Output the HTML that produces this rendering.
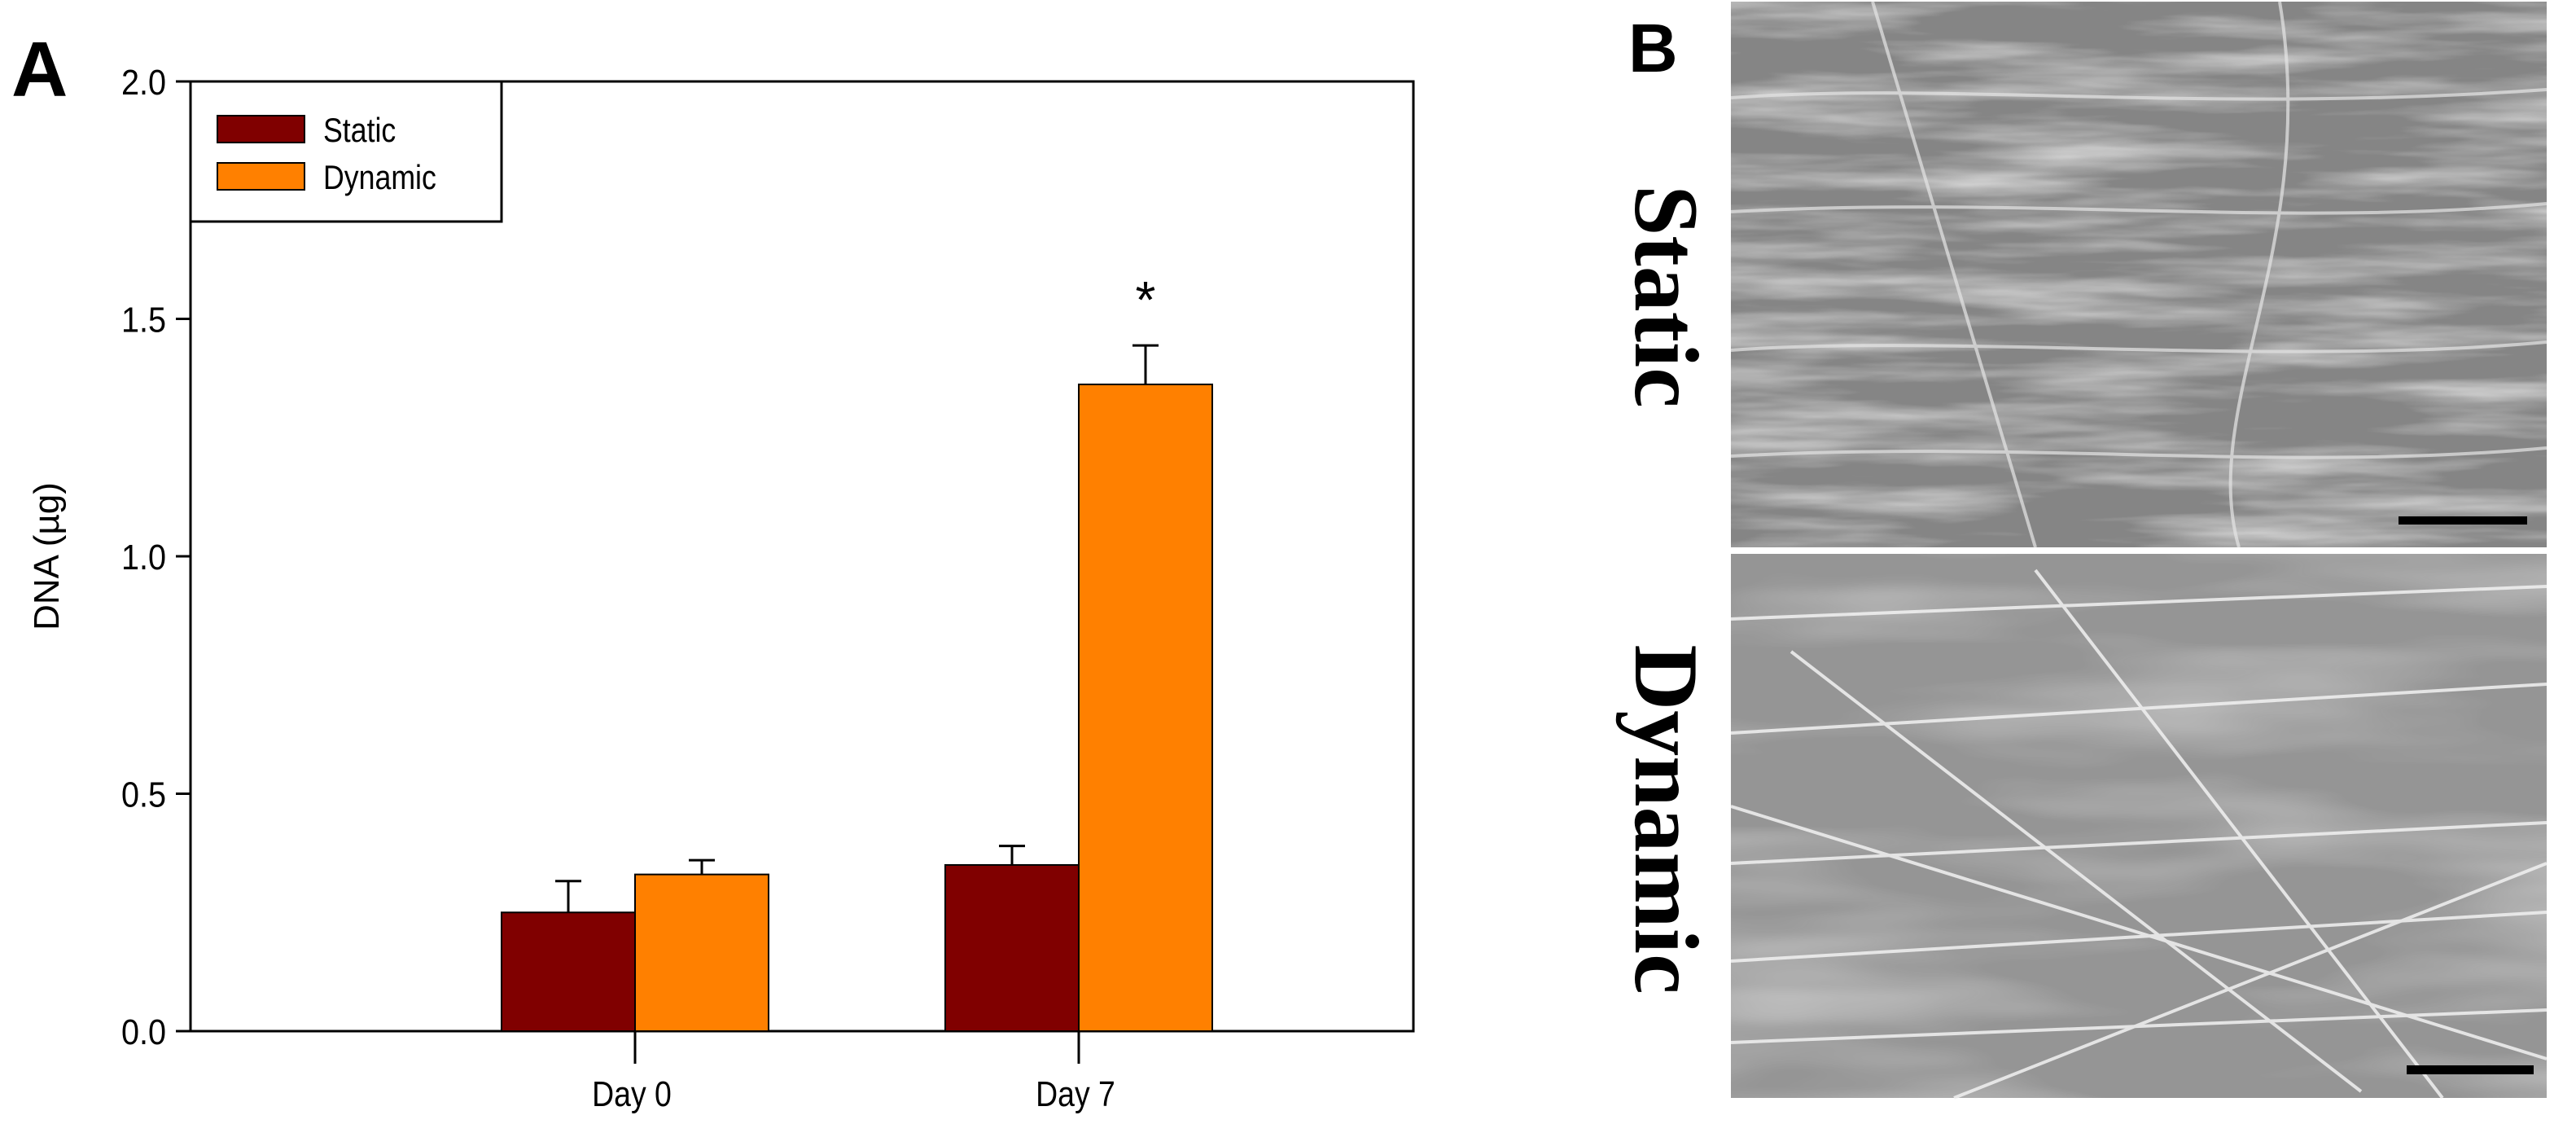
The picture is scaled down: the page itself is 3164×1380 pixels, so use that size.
<!DOCTYPE html>
<html><head><meta charset="utf-8"><style>
html,body{margin:0;padding:0;background:#fff;}
svg{display:block;}
</style></head><body>
<svg id="fig" width="3164" height="1380" viewBox="0 0 3164 1380" xmlns="http://www.w3.org/2000/svg">
<defs>
  <filter id="semA" x="0" y="0" width="100%" height="100%">
    <feTurbulence type="fractalNoise" baseFrequency="0.003 0.03" numOctaves="4" seed="3" result="n"/>
    <feColorMatrix type="matrix" values="0 0 0 0 0  0 0 0 0 0  0 0 0 0 0  0 0 0 -2.2 1.3" in="n" result="a"/>
    <feFlood flood-color="#ffffff" result="w"/>
    <feComposite in="w" in2="a" operator="in"/>
  </filter>
  <filter id="semB" x="0" y="0" width="100%" height="100%">
    <feTurbulence type="fractalNoise" baseFrequency="0.002 0.012" numOctaves="3" seed="8" result="n"/>
    <feColorMatrix type="matrix" values="0 0 0 0 0  0 0 0 0 0  0 0 0 0 0  0 0 0 -1.6 0.9" in="n" result="a"/>
    <feFlood flood-color="#ffffff" result="w"/>
    <feComposite in="w" in2="a" operator="in"/>
  </filter>
</defs>

<text x="14" y="118" font-family="Liberation Sans, sans-serif" font-weight="bold" font-size="96">A</text>

<g id="chart"></g>

<g>
  <rect x="2126" y="2" width="1002" height="670" fill="#858585"/>
  <rect x="2126" y="2" width="1002" height="670" filter="url(#semA)" opacity="0.6"/>
  <g stroke="#e6e6e6" stroke-width="4" fill="none" opacity="0.7">
    <path d="M2126 120 C2400 100 2700 140 3128 110"/><path d="M2126 260 C2500 240 2800 280 3128 250"/>
    <path d="M2126 430 C2400 410 2800 450 3128 420"/><path d="M2126 560 C2500 540 2800 580 3128 550"/>
    <path d="M2300 2 L2500 672"/><path d="M2800 2 C2850 300 2700 500 2750 672"/>
  </g>
  <rect x="2946" y="634" width="158" height="10" fill="#000"/>
</g>
<g>
  <rect x="2126" y="680" width="1002" height="668" fill="#959595"/>
  <rect x="2126" y="680" width="1002" height="668" filter="url(#semB)" opacity="0.5"/>
  <g stroke="#f2f2f2" stroke-width="4" fill="none" opacity="0.85">
    <path d="M2126 760 L3128 720"/><path d="M2126 900 L3128 840"/><path d="M2200 800 L2900 1340"/>
    <path d="M2126 1060 L3128 1010"/><path d="M2126 1180 L3128 1120"/><path d="M2400 1348 L3128 1060"/>
    <path d="M2126 1280 L3128 1240"/><path d="M2500 700 L3000 1348"/><path d="M2126 990 L3128 1300"/>
  </g>
  <rect x="2956" y="1308" width="156" height="11" fill="#000"/>
</g>
<text x="2000" y="88" font-family="Liberation Sans, sans-serif" font-weight="bold" font-size="84">B</text>
<text transform="translate(2046,364) rotate(90)" text-anchor="middle" dominant-baseline="central" font-family="Liberation Serif, serif" font-weight="bold" font-size="112">Static</text>
<text transform="translate(2046,1006) rotate(90)" text-anchor="middle" dominant-baseline="central" font-family="Liberation Serif, serif" font-weight="bold" font-size="112">Dynamic</text>
</svg>
<script>
const categories = ["Day 0", "Day 7"];
const staticValues = [0.25, 0.35];
const staticErrors = [0.066, 0.04];
const dynamicValues = [0.33, 1.362];
const dynamicErrors = [0.03, 0.082];
const yTicks = [0.0, 0.5, 1.0, 1.5, 2.0];
const yTickLabels = ["0.0", "0.5", "1.0", "1.5", "2.0"];

const NS = "http://www.w3.org/2000/svg";
const g = document.getElementById('chart');
const L = 234, R = 1736, T = 100, B = 1266;
const yMin = 0, yMax = 2;
const y = v => B - (v - yMin) / (yMax - yMin) * (B - T);
const catCenters = [780, 1325];
const x = i => catCenters[i];
const barW = 164;
const FONT = 'Liberation Sans, sans-serif';
function mk(tag, attrs) { const e = document.createElementNS(NS, tag); for (const k in attrs) e.setAttribute(k, attrs[k]); g.appendChild(e); return e; }

let e = mk('rect', {x: L, y: T, width: R - L, height: B - T, fill: 'none', stroke: '#000', 'stroke-width': 3});



yTicks.forEach((v, i) => {
  let t = mk('line', {x1: L - 18, x2: L, y1: y(v), y2: y(v), stroke: '#000', 'stroke-width': 3});
  
  
  let lb = mk('text', {x: L - 30, y: y(v) + 16, 'text-anchor': 'end', 'font-family': FONT, 'font-size': 44, transform: `translate(${(L-30)*0.1},0) scale(0.9,1)`});
  lb.textContent = yTickLabels[i];
  
  
});

let yl = mk('text', {transform: 'translate(72,683) rotate(-90)', 'text-anchor': 'middle', 'font-family': FONT, 'font-size': 44});
yl.textContent = 'DNA (µg)';



function bar(i, v, err, color, side, name) {
  const x0 = side === 0 ? x(i) - barW : x(i);
  let ev = mk('line', {x1: x0 + barW / 2, x2: x0 + barW / 2, y1: y(v), y2: y(v + err), stroke: '#000', 'stroke-width': 3});
  
  
  let ec = mk('line', {x1: x0 + barW / 2 - 16, x2: x0 + barW / 2 + 16, y1: y(v + err), y2: y(v + err), stroke: '#000', 'stroke-width': 3});
  
  
  let r = mk('rect', {x: x0, y: y(v), width: barW, height: B - y(v), fill: color, stroke: '#000', 'stroke-width': 2});
  
  
}
categories.forEach((c, i) => {
  bar(i, staticValues[i], staticErrors[i], '#800000', 0, 'bar-static-' + (i === 0 ? 'day0' : 'day7'));
  bar(i, dynamicValues[i], dynamicErrors[i], '#ff8000', 1, 'bar-dynamic-' + (i === 0 ? 'day0' : 'day7'));
  let t = mk('line', {x1: x(i), x2: x(i), y1: B, y2: B + 40, stroke: '#000', 'stroke-width': 3});
  
  
  let lb = mk('text', {x: x(i) - 4, y: B + 92, 'text-anchor': 'middle', 'font-family': FONT, 'font-size': 44, transform: `translate(${(x(i)-4)*0.15},0) scale(0.85,1)`});
  lb.textContent = c;
  
  
});

let st = mk('text', {x: x(1) + barW / 2, y: y(dynamicValues[1] + dynamicErrors[1]) - 34, 'text-anchor': 'middle', 'font-family': FONT, 'font-size': 64});
st.textContent = '*';



let lg = mk('rect', {x: L, y: T, width: 382, height: 172, fill: '#fff', stroke: '#000', 'stroke-width': 3});


[['Static', '#800000', 142], ['Dynamic', '#ff8000', 200]].forEach(([n, c, yy]) => {
  let s = mk('rect', {x: 267, y: yy, width: 107, height: 33, fill: c, stroke: '#000', 'stroke-width': 2});
  
  
  let t = mk('text', {x: 397, y: yy + 32, 'font-family': FONT, 'font-size': 42, transform: `translate(${397*0.15},0) scale(0.85,1)`});
  t.textContent = n;
  
  
});
</script>
</body></html>
